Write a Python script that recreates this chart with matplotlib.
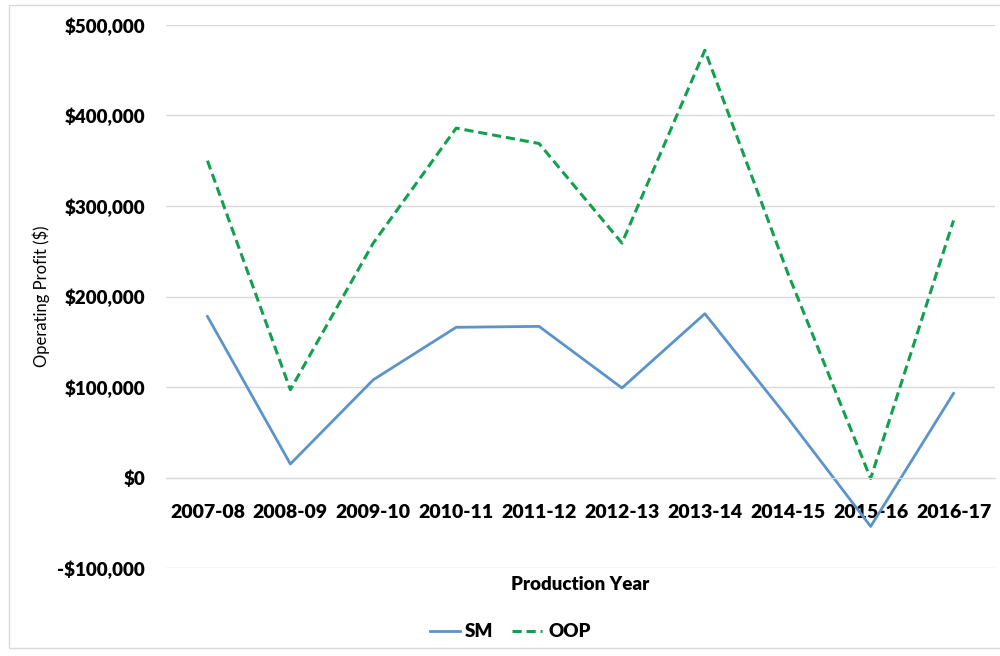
import matplotlib
matplotlib.use("Agg")
import matplotlib.pyplot as plt
from matplotlib.ticker import FuncFormatter
from matplotlib.patches import Rectangle

years = ["2007-08", "2008-09", "2009-10", "2010-11", "2011-12",
         "2012-13", "2013-14", "2014-15", "2015-16", "2016-17"]
sm = [178000, 15000, 108000, 166000, 167000, 99000, 181000, 66000, -54000, 93000]
oop = [350000, 97000, 259000, 386000, 369000, 259000, 472000, 226000, -1000, 284000]

plt.rcParams['font.family'] = ['Lato', 'DejaVu Sans']

fig = plt.figure(figsize=(10, 6.56), dpi=100)
ax = fig.add_axes([0.166, 0.134, 0.829, 0.828])

x = range(len(years))
ax.plot(x, sm, color="#5B93CC", lw=2.0, label="SM")
ax.plot(x, oop, color="#12A04F", lw=2.2, ls=(0, (3, 1.6)), label="OOP")

ax.set_xlim(-0.5, len(years) - 0.5)
ax.set_ylim(-100000, 500000)
ax.set_yticks(range(-100000, 500001, 100000))
ax.yaxis.set_major_formatter(FuncFormatter(
    lambda v, p: ("-$" if v < 0 else "$") + f"{abs(int(v)):,}"))
ax.grid(axis="y", color="#D9D9D9", lw=1)
ax.set_axisbelow(True)

for s in ["top", "right", "left"]:
    ax.spines[s].set_visible(False)
ax.spines["bottom"].set_position(("data", 0))
ax.spines["bottom"].set_color("#D9D9D9")

ax.set_xticks(list(x))
ax.set_xticklabels(years, fontsize=14, fontweight="heavy")
ax.tick_params(axis="x", length=0, pad=19)
ax.tick_params(axis="y", length=0, pad=15, labelsize=13.5)
for t in ax.get_yticklabels():
    t.set_fontweight("heavy")

ax.set_xlabel("Production Year", fontsize=13.5, fontweight="heavy", va="center")
ax.xaxis.set_label_coords(0.5, -0.031)
ax.set_ylabel("Operating Profit ($)", fontsize=12, va="center")
ax.yaxis.set_label_coords(-0.151, 0.5)

fig.legend(loc="center", bbox_to_anchor=(0.51, 0.037), ncol=2, frameon=False,
           prop={"size": 13.5, "weight": "heavy"}, handlelength=1.6,
           handletextpad=0.3, columnspacing=1.0)

fig.patches.append(Rectangle((0.009, 0.012), 1.2, 0.98, transform=fig.transFigure,
                             fill=False, edgecolor="#D9D9D9", lw=1))

fig.savefig("out.png", dpi=100)
